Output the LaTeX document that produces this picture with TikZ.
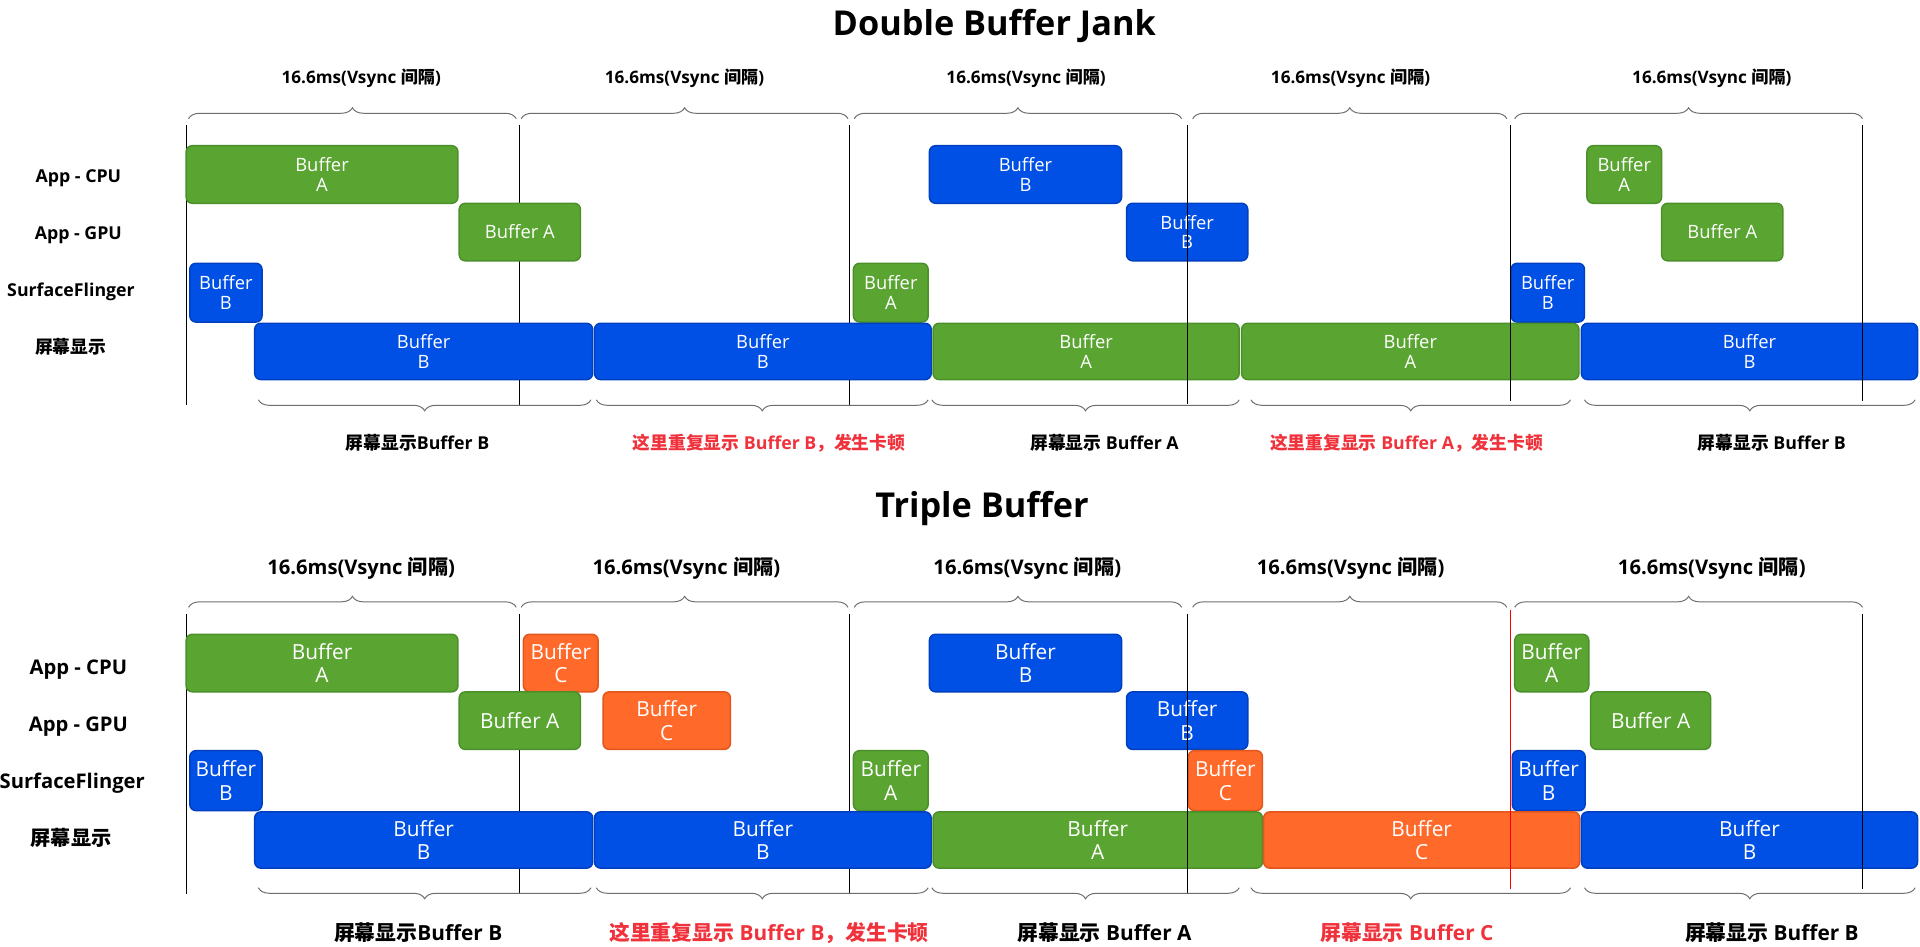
\documentclass[tikz,border=0pt]{standalone}
\usepackage{fontspec}
\setmainfont{Open Sans}
\newfontfamily\cjk{Noto Sans CJK SC}
\usetikzlibrary{decorations.pathreplacing}
\definecolor{gfill}{HTML}{5AA532}
\definecolor{gline}{HTML}{4B8F2A}
\definecolor{bfill}{HTML}{0050E6}
\definecolor{bline}{HTML}{0040C0}
\definecolor{ofill}{HTML}{FF6A2A}
\definecolor{oline}{HTML}{E0561C}
\definecolor{redtxt}{HTML}{F0323C}
\definecolor{bracecol}{HTML}{6E6E6E}
\newcommand\fs[2]{\fontsize{#1}{#2}\selectfont}
\newcommand\bufbox[7]{\node[#2, anchor=north west, minimum width={#4pt-#3pt}, minimum height={#6pt-#5pt}] (#1) at (#3,#5) {#7};}
\tikzset{
  boxbase/.style={rounded corners=5pt, line width=1.2pt, inner sep=0pt, outer sep=0pt, text=white, align=center},
  tb/.style={boxbase, font=\fs{15}{16}},
  bb/.style={boxbase, font=\fs{17}{19}},
  grn/.style={fill=gfill, draw=gline},
  blu/.style={fill=bfill, draw=bline},
  org/.style={fill=ofill, draw=oline},
  brc/.style={decorate, decoration={brace, amplitude=9pt}, draw=bracecol, line width=0.8pt},
  brcm/.style={decorate, decoration={brace, mirror, amplitude=9pt}, draw=bracecol, line width=0.8pt},
  vline/.style={line width=0.9pt, draw=black},
  rvline/.style={line width=0.9pt, draw=red},
  ttl/.style={anchor=base, inner sep=0pt, font=\fs{28}{32}\bfseries},
  thdr/.style={anchor=base, inner sep=0pt, font=\fs{14}{16}\bfseries},
  bhdr/.style={anchor=base, inner sep=0pt, font=\fs{16.5}{18}\bfseries},
  trow/.style={anchor=base, inner sep=0pt, font=\fs{14.5}{16}\bfseries},
  brow/.style={anchor=base, inner sep=0pt, font=\fs{16.5}{18}\bfseries},
  tlab/.style={anchor=base, inner sep=0pt, font=\fs{14.5}{16}\bfseries},
  blab/.style={anchor=base, inner sep=0pt, font=\fs{17}{18}\bfseries},
}
\begin{document}
\begin{tikzpicture}[x=1pt,y=-1pt]
\useasboundingbox (0,0) rectangle (1568,773);
\fill[white] (0,0) rectangle (1568,773);

%================ Double Buffer Jank ================
\node[ttl] (title1) at (812,28.6) {Double Buffer Jank};
\node[thdr] (h11) at (295,68) {16.6ms(Vsync {\cjk 间隔})};
\node[thdr] (h12) at (559,68) {16.6ms(Vsync {\cjk 间隔})};
\node[thdr] (h13) at (838,68) {16.6ms(Vsync {\cjk 间隔})};
\node[thdr] (h14) at (1103,68) {16.6ms(Vsync {\cjk 间隔})};
\node[thdr] (h15) at (1398,68) {16.6ms(Vsync {\cjk 间隔})};

\draw[brc] (154,97) -- (421.6,97);
\draw[brc] (425.6,97) -- (692.6,97);
\draw[brc] (697.6,97) -- (965,97);
\draw[brc] (974,97) -- (1230.6,97);
\draw[brc] (1237,97) -- (1521,97);

\node[trow] (r11) at (64,149) {App - CPU};
\node[trow] (r12) at (64,195.5) {App - GPU};
\node[trow] (r13) at (58,242) {SurfaceFlinger};
\node[trow] (r14) at (57.6,289) {\cjk 屏幕显示};

\draw[vline] (152,102) -- (152,331);
\draw[vline] (424.5,102) -- (424.5,331);
\draw[vline] (694,102) -- (694,331);

\bufbox{tc1}{tb,grn}{152}{374}{119}{166}{Buffer\\A}
\bufbox{tc2}{tb,blu}{759}{916}{119}{166}{Buffer\\B}
\bufbox{tc3}{tb,grn}{1296}{1357}{119}{166}{Buffer\\A}
\bufbox{tg1}{tb,grn}{375}{474}{166}{213}{Buffer A}
\bufbox{tg2}{tb,blu}{920}{1019}{166}{213}{Buffer\\B}
\bufbox{tg3}{tb,grn}{1357}{1456}{166}{213}{Buffer A}
\bufbox{ts1}{tb,blu}{155}{214}{215}{263}{Buffer\\B}
\bufbox{ts2}{tb,grn}{697}{758}{215}{263}{Buffer\\A}
\bufbox{ts3}{tb,blu}{1234}{1294}{215}{263}{Buffer\\B}
\bufbox{td1}{tb,blu}{208}{484}{264}{310}{Buffer\\B}
\bufbox{td2}{tb,blu}{485.5}{760.5}{264}{310}{Buffer\\B}
\bufbox{td3}{tb,grn}{762}{1012}{264}{310}{Buffer\\A}
\bufbox{td4}{tb,grn}{1014}{1289.5}{264}{310}{Buffer\\A}
\bufbox{td5}{tb,blu}{1291.5}{1566}{264}{310}{Buffer\\B}

\draw[vline] (969.5,102) -- (969.5,330);
\draw[vline] (1233.5,102) -- (1233.5,327.6);
\draw[vline] (1521,102) -- (1521,327.6);

\draw[brcm] (211,326.5) -- (482.6,326.5);
\draw[brcm] (487,326.5) -- (758,326.5);
\draw[brcm] (761,326.5) -- (1012,326.5);
\draw[brcm] (1021.6,326.5) -- (1282.6,326.5);
\draw[brcm] (1294,326.5) -- (1564,326.5);

\node[tlab] (l11) at (341,367) {{\cjk 屏幕显示}Buffer B};
\node[tlab, text=redtxt] (l12) at (628,367) {{\cjk 这里重复显示} Buffer B{\cjk ，发生卡顿}};
\node[tlab] (l13) at (902,367) {{\cjk 屏幕显示} Buffer A};
\node[tlab, text=redtxt] (l14) at (1148.6,367) {{\cjk 这里重复显示} Buffer A{\cjk ，发生卡顿}};
\node[tlab] (l15) at (1447,367) {{\cjk 屏幕显示} Buffer B};

%================ Triple Buffer ================
\node[ttl] (title2) at (802,423) {Triple Buffer};
\node[bhdr] (h21) at (295,469.5) {16.6ms(Vsync {\cjk 间隔})};
\node[bhdr] (h22) at (560.6,469.5) {16.6ms(Vsync {\cjk 间隔})};
\node[bhdr] (h23) at (839,469.5) {16.6ms(Vsync {\cjk 间隔})};
\node[bhdr] (h24) at (1103,469.5) {16.6ms(Vsync {\cjk 间隔})};
\node[bhdr] (h25) at (1398,469.5) {16.6ms(Vsync {\cjk 间隔})};

\draw[brc] (154,496) -- (421.6,496);
\draw[brc] (425.6,496) -- (692.6,496);
\draw[brc] (697.6,496) -- (965,496);
\draw[brc] (974,496) -- (1230.6,496);
\draw[brc] (1237,496) -- (1521,496);

\node[brow] (r21) at (64,550.5) {App - CPU};
\node[brow] (r22) at (64,597) {App - GPU};
\node[brow] (r23) at (59,644) {SurfaceFlinger};
\node[brow] (r24) at (58,690.5) {\cjk 屏幕显示};

\draw[vline] (152,501.5) -- (152,730);
\draw[vline] (424.5,501.5) -- (424.5,730);
\draw[vline] (694,501.5) -- (694,730);

\bufbox{bc1}{bb,grn}{152}{374}{518}{565}{Buffer\\A}
\bufbox{bc2}{bb,org}{427.5}{488.5}{518}{565}{Buffer\\C}
\bufbox{bc3}{bb,blu}{759}{916}{518}{565}{Buffer\\B}
\bufbox{bc4}{bb,grn}{1237}{1297.5}{518}{565}{Buffer\\A}
\bufbox{bg1}{bb,grn}{375}{474}{565}{612}{Buffer A}
\bufbox{bg2}{bb,org}{492.5}{596.5}{565}{612}{Buffer\\C}
\bufbox{bg3}{bb,blu}{920}{1019}{565}{612}{Buffer\\B}
\bufbox{bg4}{bb,grn}{1299}{1397}{565}{612}{Buffer A}
\bufbox{bs1}{bb,blu}{155}{214}{613}{662}{Buffer\\B}
\bufbox{bs2}{bb,grn}{697}{758}{613}{662}{Buffer\\A}
\bufbox{bs3}{bb,org}{970.5}{1031}{613}{662}{Buffer\\C}
\bufbox{bs4}{bb,blu}{1235}{1294.5}{613}{662}{Buffer\\B}
\bufbox{bd1}{bb,blu}{208}{484}{663}{709}{Buffer\\B}
\bufbox{bd2}{bb,blu}{485.5}{760.5}{663}{709}{Buffer\\B}
\bufbox{bd3}{bb,grn}{762}{1031}{663}{709}{Buffer\\A}
\bufbox{bd4}{bb,org}{1032}{1290}{663}{709}{Buffer\\C}
\bufbox{bd5}{bb,blu}{1291.5}{1566}{663}{709}{Buffer\\B}

\draw[vline] (969.5,501.5) -- (969.5,730);
\draw[rvline] (1233.5,498) -- (1233.5,726);
\draw[vline] (1521,501.5) -- (1521,726);

\draw[brcm] (211,725) -- (482.6,725);
\draw[brcm] (487,725) -- (758,725);
\draw[brcm] (761,725) -- (1012,725);
\draw[brcm] (1021.6,725) -- (1282.6,725);
\draw[brcm] (1294,725) -- (1564,725);

\node[blab] (l21) at (341.5,768) {{\cjk 屏幕显示}Buffer B};
\node[blab, text=redtxt] (l22) at (628,768) {{\cjk 这里重复显示} Buffer B{\cjk ，发生卡顿}};
\node[blab] (l23) at (902,768) {{\cjk 屏幕显示} Buffer A};
\node[blab, text=redtxt] (l24) at (1149,768) {{\cjk 屏幕显示} Buffer C};
\node[blab] (l25) at (1447,768) {{\cjk 屏幕显示} Buffer B};
\end{tikzpicture}
\end{document}
